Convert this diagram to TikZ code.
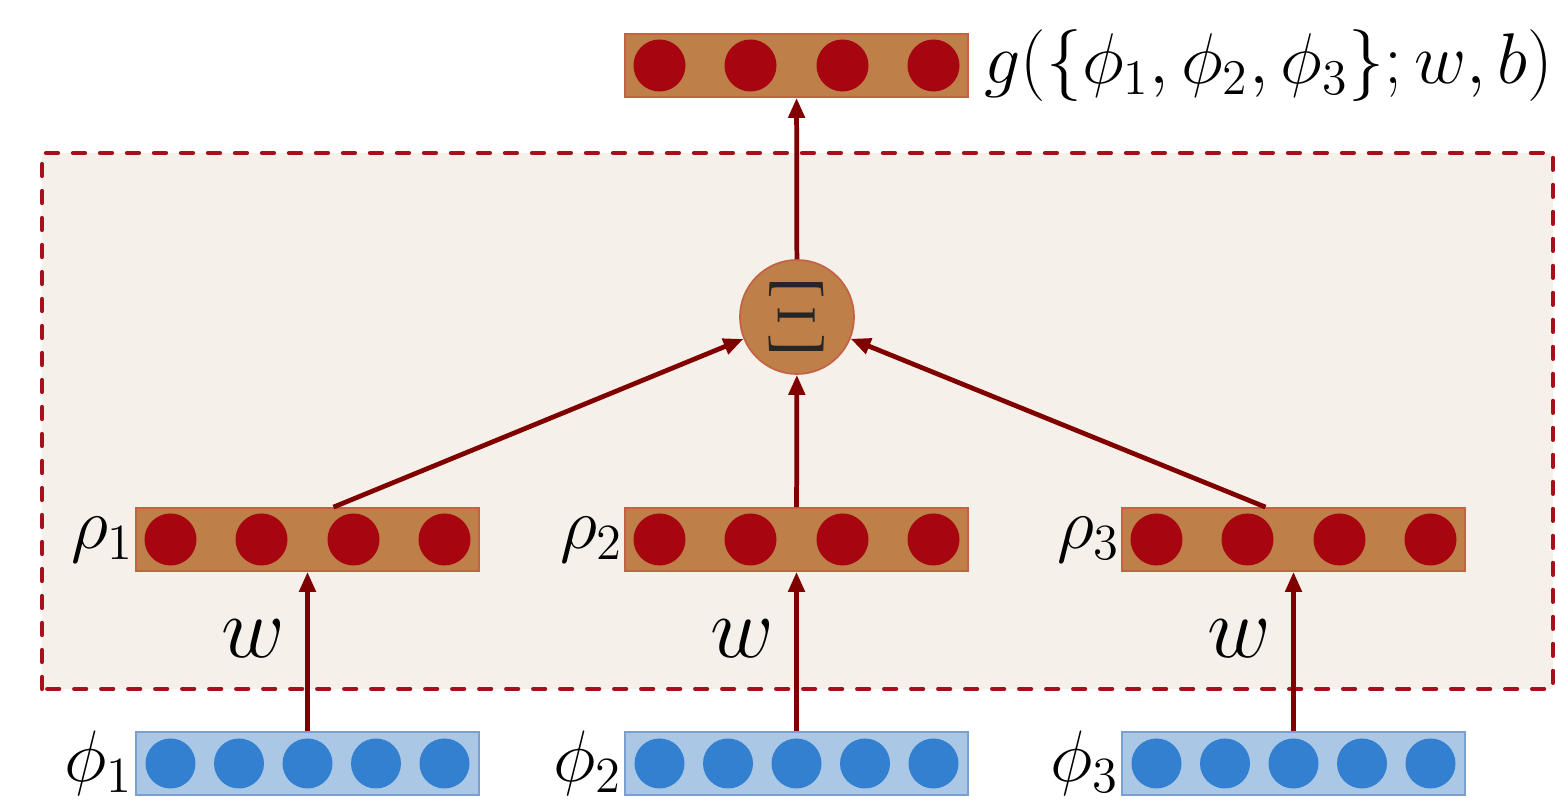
\documentclass[tikz,border=0pt]{standalone}
\usepackage{amsmath,amssymb}
\usepackage{graphicx}
\usepackage{xcolor}
\usepackage{tikz}
\usetikzlibrary{arrows.meta,positioning}
\definecolor{pane}{RGB}{246,240,234}
\definecolor{dashred}{RGB}{166,16,28}
\definecolor{unitbrown}{RGB}{190,127,72}
\definecolor{unitedge}{RGB}{196,98,70}
\definecolor{unitred}{RGB}{167,5,16}
\definecolor{arrred}{RGB}{128,0,0}
\definecolor{inblue}{RGB}{170,200,230}
\definecolor{inedge}{RGB}{122,160,208}
\definecolor{unitblue}{RGB}{50,128,207}
\begin{document}
\begin{tikzpicture}[>={Triangle[length=0.2cm,width=0.16cm]},
  rbox/.style={draw=unitedge,fill=unitbrown,line width=0.5pt,minimum width=3.43cm,minimum height=0.63cm,inner sep=0},
  pbox/.style={draw=inedge,fill=inblue,line width=0.5pt,minimum width=3.43cm,minimum height=0.63cm,inner sep=0},
  sumnode/.style={circle,draw=unitedge,fill=unitbrown,line width=0.5pt,minimum size=1.14cm,inner sep=0,text=black!85,font=\fontsize{24.88}{28}\selectfont},
  lab/.style={font=\fontsize{20.74}{24}\selectfont,inner sep=0,text=black},
  wlab/.style={font=\fontsize{24.88}{28}\selectfont,inner sep=0,text=black},
  arr/.style={->,arrred,line width=1.35pt}]
\useasboundingbox (0,0) rectangle (15.55,8.09);
% shared block
\draw[dashred,fill=pane,line width=1.2pt,line cap=round,dash pattern=on 0.12cm off 0.15cm] (0.42,1.20) rectangle (15.53,6.56);
% units
\node[rbox] (top) at (7.965,7.435) {};
\node[sumnode] (sum) at (7.97,4.92) {\scalebox{1.16}{$\Xi$}};
\node[rbox] (rho1) at (3.075,2.695) {};
\node[rbox] (rho2) at (7.965,2.695) {};
\node[rbox] (rho3) at (12.935,2.695) {};
\node[pbox] (phi1) at (3.075,0.455) {};
\node[pbox] (phi2) at (7.965,0.455) {};
\node[pbox] (phi3) at (12.935,0.455) {};
\foreach \n in {top,rho1,rho2,rho3}
  \foreach \dx in {-1.37,-0.46,0.46,1.37}
    \fill[unitred] ([xshift=\dx cm]\n.center) circle (0.26);
\foreach \n in {phi1,phi2,phi3}
  \foreach \dx in {-1.37,-0.685,0,0.685,1.37}
    \fill[unitblue] ([xshift=\dx cm]\n.center) circle (0.25);
% labels
\node[lab,left=0cm of rho1] (lrho1) {$\rho_1$};
\node[lab,left=0cm of rho2] (lrho2) {$\rho_2$};
\node[lab,left=0cm of rho3] (lrho3) {$\rho_3$};
\node[lab,left=0.01cm of phi1] (lphi1) {$\phi_1$};
\node[lab,left=0.01cm of phi2] (lphi2) {$\phi_2$};
\node[lab,left=0.01cm of phi3] (lphi3) {$\phi_3$};
\node[lab,right=0.15cm of top] (out) {\scalebox{0.985}{$g(\{\phi_1,\phi_2,\phi_3\};w,b)$}};
% connections
\foreach \i in {1,2,3}
  \draw[arr] (phi\i) -- (rho\i) node[wlab,pos=0.58,left=0.2cm] (w\i) {$w$};
\draw[arr] ([xshift=0.26cm]rho1.north) -- (sum);
\draw[arr] (rho2) -- (sum);
\draw[arr] ([xshift=-0.28cm]rho3.north) -- (sum);
\draw[arr] (sum) -- (top);
\end{tikzpicture}
\end{document}
